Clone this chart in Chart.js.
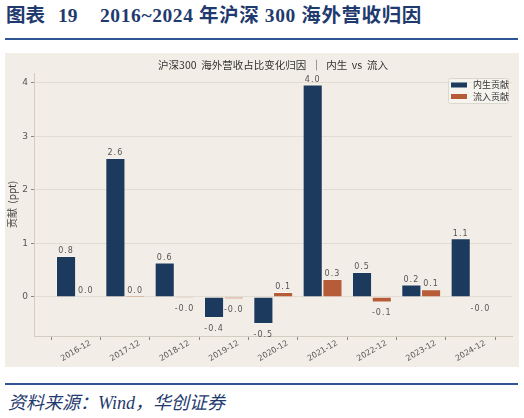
<!DOCTYPE html>
<html>
<head>
<meta charset="utf-8">
<script src="https://cdn.jsdelivr.net/npm/chart.js@4.4.1/dist/chart.umd.min.js"></script>
<style>
  body { margin: 0; width: 524px; height: 418px; background: #fff; position: relative; overflow: hidden; }
  .head { position: absolute; top: 5px; font: bold 19.5px/22px "Liberation Serif", "Noto Sans CJK SC", serif; color: #1f3a6e; white-space: nowrap; }
  .rule { position: absolute; left: 5px; width: 513px; height: 2px; background: #2f5594; }
  .panel { position: absolute; left: 5px; top: 53px; width: 514px; height: 314px; background: #f2eee7; }
  .foot { position: absolute; left: 8px; top: 392px; font: italic 18px/22px "Liberation Serif", "Noto Sans CJK SC", serif; color: #1f3a6e; white-space: nowrap; }
</style>
</head>
<body>
<div class="head" style="left:6px">图表</div>
<div class="head" style="left:58px">19</div>
<div class="head" style="left:100px; letter-spacing:0.6px">2016~2024 年沪深 300 海外营收归因</div>
<div class="rule" style="top:38px"></div>
<div class="panel"><canvas id="chart" width="514" height="314"></canvas></div>
<div class="rule" style="top:383px"></div>
<div class="foot">资料来源：Wind，华创证券</div>
<script>
const categories = ["2016-12", "2017-12", "2018-12", "2019-12", "2020-12", "2021-12", "2022-12", "2023-12", "2024-12"];
const organic = [0.76, 2.59, 0.64, -0.39, -0.50, 3.96, 0.46, 0.23, 1.09];
const inflow = [0.01, 0.02, -0.02, -0.04, 0.09, 0.33, -0.10, 0.14, -0.01];
const yTicks = [0, 1, 2, 3, 4];

const navy = "#1b3a5e";
const rust = "#b75c38";
const font = "'Noto Sans CJK SC', 'DejaVu Sans', sans-serif";

const toPoints = arr => arr.map((v, i) => ({ x: i, y: v }));

const extras = {
    id: "extras",
    afterDraw(chart) {
        const ctx = chart.ctx;
        const area = chart.chartArea;
        const xs = chart.scales.x;
        ctx.save();

        // title
        ctx.fillStyle = "#333";
        ctx.font = "10.5px " + font;
        ctx.textAlign = "center";
        ctx.textBaseline = "middle";
        ctx.fillText("沪深300  海外营收占比变化归因  ｜  内生  vs  流入", (area.left + area.right) / 2, 12);

        // value labels
        ctx.font = "8px 'DejaVu Sans', sans-serif";
        ctx.letterSpacing = "1px";
        ctx.fillStyle = "#555";
        chart.data.datasets.forEach((ds, di) => {
            chart.getDatasetMeta(di).data.forEach((bar, j) => {
                const v = ds.data[j].y;
                const txt = v.toFixed(1);
                if (v >= 0) ctx.fillText(txt, bar.x, bar.y - 5);
                else ctx.fillText(txt, bar.x, bar.y + 11);
            });
        });
        ctx.letterSpacing = "0px";

        // x labels, rotated and centred under ticks
        ctx.font = "8px 'DejaVu Sans', sans-serif";
        ctx.fillStyle = "#555";
        categories.forEach((c, i) => {
            ctx.save();
            ctx.translate(xs.getPixelForValue(i), area.bottom + 15);
            ctx.rotate(-Math.PI / 6);
            ctx.fillText(c, 0, 0);
            ctx.restore();
        });

        // legend
        const lx = 443, ly = 25, lw = 60, lh = 25;
        ctx.fillStyle = "rgba(255,255,255,0.35)";
        ctx.strokeStyle = "#ddd8ce";
        ctx.lineWidth = 1;
        ctx.beginPath();
        ctx.roundRect(lx + 0.5, ly + 0.5, lw, lh, 2);
        ctx.fill();
        ctx.stroke();
        ctx.font = "9px " + font;
        ctx.textAlign = "left";
        chart.data.datasets.forEach((ds, di) => {
            const cy = ly + 7 + di * 11.5;
            ctx.fillStyle = ds.backgroundColor;
            ctx.fillRect(lx + 3, cy - 2.5, 16, 5);
            ctx.fillStyle = "#333";
            ctx.fillText(ds.label, lx + 25, cy);
        });
        ctx.restore();
    }
};

new Chart(document.getElementById("chart"), {
    type: "bar",
    data: {
        datasets: [
            { label: "内生贡献", data: toPoints(organic), backgroundColor: navy, borderColor: "rgba(255,255,255,0.45)", borderWidth: 0.8 },
            { label: "流入贡献", data: toPoints(inflow), backgroundColor: rust, borderColor: "rgba(255,255,255,0.45)", borderWidth: 0.8 }
        ]
    },
    options: {
        responsive: false,
        devicePixelRatio: 1,
        animation: false,
        layout: { padding: { top: 20, right: 7, left: 0, bottom: 0 } },
        datasets: { bar: { categoryPercentage: 0.8, barPercentage: 1.0 } },
        plugins: { legend: { display: false }, title: { display: false }, tooltip: { enabled: false } },
        scales: {
            x: {
                type: "linear",
                min: -0.85,
                max: 8.84,
                offset: false,
                afterBuildTicks: s => { s.ticks = categories.map((c, i) => ({ value: i })); },
                afterFit: s => { s.height = 31; },
                ticks: { display: false },
                grid: { drawOnChartArea: false, drawTicks: true, tickLength: 4, tickColor: "#888" },
                border: { color: "#d3cdc1", width: 1 }
            },
            y: {
                min: -0.73,
                max: 4.18,
                afterBuildTicks: s => { s.ticks = yTicks.map(v => ({ value: v })); },
                afterFit: s => { s.width = 29; },
                ticks: { color: "#555", font: { size: 9, family: "'DejaVu Sans', sans-serif" }, padding: 3 },
                grid: { color: "#e2ddd3", lineWidth: 1, tickLength: 3, tickColor: "#888" },
                border: { color: "#d3cdc1", width: 1 },
                title: { display: true, text: "贡献  (ppt)", color: "#444", font: { size: 10, family: font }, padding: { top: 1, bottom: 0 } }
            }
        }
    },
    plugins: [extras]
});
</script>
</body>
</html>
